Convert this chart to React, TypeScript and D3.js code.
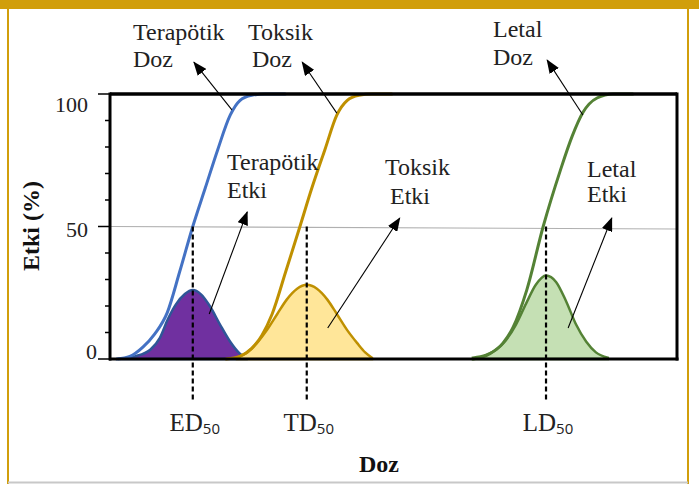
import React from 'react';
import * as d3 from 'd3';

// ---- data (dose units 0-100, effect %) ----
const yTicks = [0, 10, 20, 30, 40, 50, 60, 70, 80, 90, 100];
const yLabels = [0, 50, 100];

const tdDose = [1.2, 3.5, 5.8, 7.9, 10.1, 12.3, 14.6, 16.8, 19.0, 21.2, 22.9, 25.0, 27.3, 30.9];
const tdEffect = [0, 1, 4.5, 9.5, 17.5, 33, 50, 64.5, 79, 92, 97.5, 99.5, 100, 100];

const txDose = [20.5, 22.9, 25.0, 26.8, 28.6, 31.0, 33.5, 35.6, 37.9, 40.0, 41.8, 43.9, 46.2, 49.7];
const txEffect = [0, 1, 4, 9, 17, 33, 50, 64.5, 79, 92, 97.5, 99.5, 100, 100];

const ldDose = [64.0, 67.0, 69.3, 71.1, 73.5, 76.4, 79.4, 81.5, 83.4, 85.9, 88.7, 92.2];
const ldEffect = [0, 2, 6, 12, 26, 50, 71, 84, 93, 98.5, 100, 100];

const teBellDose = [1.4, 4.4, 7.1, 8.8, 10.2, 11.6, 13.2, 14.6, 16.0, 17.6, 19.4, 21.2, 22.9, 24.3];
const teBellVal = [0, 1, 3.5, 8, 15, 20.5, 24.5, 26, 24.5, 20, 13, 6.5, 2, 0];

const txBellDose = [22.4, 24.2, 25.9, 27.7, 29.5, 31.2, 33.0, 34.7, 36.5, 38.3, 40.0, 41.8, 43.6, 45.0, 46.2];
const txBellVal = [0.5, 2.5, 6, 11, 17, 22.5, 26.5, 28, 26.5, 22.5, 17, 11, 6, 2.5, 0.5];

const ldBellDose = [64.0, 66.3, 68.1, 69.8, 71.6, 73.4, 75.1, 76.9, 78.7, 80.4, 82.2, 84.0, 85.7, 87.8];
const ldBellVal = [0.5, 1.5, 3.5, 7, 13, 21, 28, 31.5, 29, 22, 13, 6.5, 2.5, 0.5];

const d50Names = ['ED', 'TD', 'LD'];
const d50Dose = [14.6, 34.7, 76.9];

// arrows: [fromDose, fromEffect, toDose, toEffect]
const arrowFrom = [[21.5, 94], [40.0, 92.8], [83.4, 92.1], [17.5, 17], [38.4, 11.7], [80.8, 11.7]];
const arrowTo = [[14.8, 112], [33.9, 112], [77.1, 112.8], [24.2, 55.5], [51.1, 53.2], [88.5, 53.2]];

const W = 699;
const H = 484;
const L = 110, R = 677, T = 94, B = 359;

const serif = '"Liberation Serif", "Times New Roman", serif';

export default function App() {
  const x = d3.scaleLinear().domain([0, 100]).range([L, R]);
  const y = d3.scaleLinear().domain([0, 100]).range([B, T]);

  const line = d3.line<[number, number]>().x(d => x(d[0])).y(d => y(d[1])).curve(d3.curveMonotoneX);
  const area = d3.area<[number, number]>().x(d => x(d[0])).y0(y(0)).y1(d => y(d[1])).curve(d3.curveMonotoneX);

  const zip = (a: number[], b: number[]) => a.map((v, i) => [v, b[i]] as [number, number]);

  const bells = [
    { pts: zip(teBellDose, teBellVal), fill: '#7030a0', stroke: '#2f5597' },
    { pts: zip(txBellDose, txBellVal), fill: '#ffe699', stroke: '#bf9000' },
    { pts: zip(ldBellDose, ldBellVal), fill: '#c5e0b4', stroke: '#548235' },
  ];
  const sigs = [
    { pts: zip(tdDose, tdEffect), stroke: '#4472c4' },
    { pts: zip(txDose, txEffect), stroke: '#bf9000' },
    { pts: zip(ldDose, ldEffect), stroke: '#548235' },
  ];

  const labelOffset = (v: number) => (v === 100 ? 18 : v === 50 ? 10 : 0);
  const labelRight = (v: number) => (v === 0 ? 97 : 88);

  return (
    <svg width={W} height={H} style={{ position: 'absolute', left: 0, top: 0, background: '#fff' }}>
      <defs>
        <marker id="arr" viewBox="0 0 14 11" refX="13" refY="5.5" markerWidth="14" markerHeight="11"
          orient="auto" markerUnits="userSpaceOnUse">
          <path d="M0,0 L14,5.5 L0,11 z" fill="#000" />
        </marker>
      </defs>
      {/* frame */}
      <rect x={0} y={0} width={W} height={9} fill="#d19e0b" />
      <line x1={8} x2={8} y1={0} y2={H} stroke="#d19e0b" strokeWidth={2} />
      <line x1={688} x2={688} y1={0} y2={H} stroke="#d19e0b" strokeWidth={2} />
      <line x1={8} x2={688} y1={482.5} y2={482.5} stroke="#c8c8c8" strokeWidth={2} />

      {/* 50% reference line */}
      <line x1={L} x2={R} y1={y(50)} y2={y(50) + 2.5} stroke="#b0b0b0" strokeWidth={1.2} />

      {/* bells */}
      {bells.map((b, i) => (
        <path key={'b' + i} d={area(b.pts) || ''} fill={b.fill} stroke={b.stroke} strokeWidth={2.5} />
      ))}
      {/* sigmoids */}
      {sigs.map((s, i) => (
        <path key={'s' + i} d={line(s.pts) || ''} fill="none" stroke={s.stroke} strokeWidth={3} strokeLinecap="round" />
      ))}

      {/* box */}
      <line x1={L} x2={R} y1={T} y2={T} stroke="#000" strokeWidth={3.5} />
      <line x1={R} x2={R} y1={T - 1.5} y2={B + 1.5} stroke="#000" strokeWidth={3} />
      <line x1={L - 1} x2={R + 1.5} y1={B} y2={B} stroke="#000" strokeWidth={3} />
      <line x1={L} x2={L} y1={T - 1.5} y2={B + 1.5} stroke="#000" strokeWidth={3} />

      {/* y ticks */}
      {yTicks.map(t => (
        <line key={'t' + t} x1={t % 50 === 0 ? L - 12 : L - 5} x2={L} y1={y(t)} y2={y(t)} stroke="#000" strokeWidth={1.5} />
      ))}
      {yLabels.map(v => (
        <text key={'l' + v} x={labelRight(v)} y={y(v) + labelOffset(v)} textAnchor="end"
          fontFamily={serif} fontSize={22} fill="#222">{v}</text>
      ))}
      <text transform={`translate(39,226) rotate(-90)`} textAnchor="middle" fontFamily={serif}
        fontWeight="bold" fontSize={24} fill="#111">Etki (%)</text>

      {/* dashed 50% markers */}
      {d50Dose.map((d, i) => (
        <line key={'d' + i} x1={x(d)} x2={x(d)} y1={y(50)} y2={B + 41} stroke="#000" strokeWidth={2.2}
          strokeDasharray="5,3" />
      ))}
      {d50Dose.map((d, i) => (
        <text key={'n' + i} x={x(d) + 2} y={431} textAnchor="middle" fontFamily={serif} fontSize={25} fill="#222">
          {d50Names[i]}
          <tspan fontFamily='"Open Sans", "Noto Sans", sans-serif' fontSize={15} dy={3}>50</tspan>
        </text>
      ))}
      <text x={379} y={472} textAnchor="middle" fontFamily={serif} fontWeight="bold" fontSize={24} fill="#111">Doz</text>

      {/* arrows */}
      {arrowFrom.map((f, i) => (
        <line key={'a' + i} x1={x(f[0])} y1={y(f[1])} x2={x(arrowTo[i][0])} y2={y(arrowTo[i][1])}
          stroke="#000" strokeWidth={1.1} markerEnd="url(#arr)" />
      ))}

      {/* annotation texts */}
      <g fontFamily={serif} fontSize={24} fill="#222">
        <text x={133} y={40}>Terapötik</text>
        <text x={133} y={67}>Doz</text>
        <text x={248} y={40}>Toksik</text>
        <text x={252} y={67}>Doz</text>
        <text x={493} y={37}>Letal</text>
        <text x={493} y={65}>Doz</text>
        <text x={227} y={170}>Terapötik</text>
        <text x={227} y={198}>Etki</text>
        <text x={385} y={175}>Toksik</text>
        <text x={390} y={204}>Etki</text>
        <text x={587} y={177}>Letal</text>
        <text x={587} y={202}>Etki</text>
      </g>
    </svg>
  );
}
